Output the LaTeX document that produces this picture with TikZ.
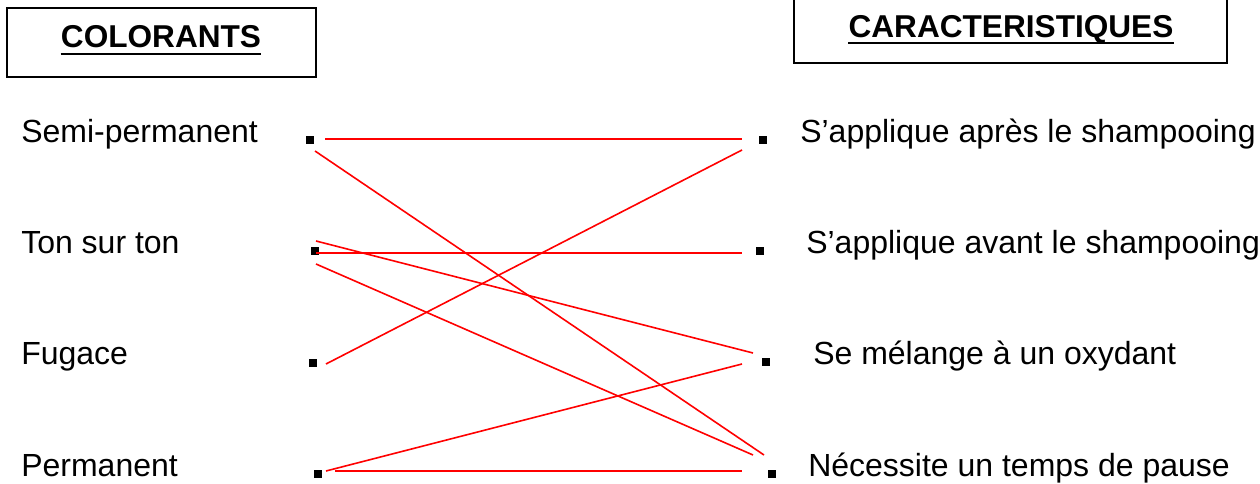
\documentclass[tikz,border=0pt]{standalone}
\usepackage{fontspec}
\setmainfont{Liberation Sans}
\usetikzlibrary{calc}
\begin{document}
\begin{tikzpicture}[x=0.75pt,y=-0.75pt,
  lbl/.style={anchor=base west,inner sep=0pt,font=\fontsize{24}{28}\selectfont},
  ttl/.style={anchor=base,inner sep=0pt,font=\fontsize{23.7}{28}\selectfont\bfseries},
  titlebox/.style={draw=black,line width=1.5pt},
  ul/.style={draw=black,line width=2.2pt},
  dotsq/.style={rectangle,fill=black,inner sep=0pt,minimum size=5.5pt},
  link/.style={draw=red,line width=1.2pt}]
\useasboundingbox (0,0) rectangle (1260,484);
% title boxes
\draw[titlebox] (7,8) rectangle (316,77);
\draw[titlebox] (794,-10) rectangle (1227,63);
\node[ttl] (tc) at (161,48) {COLORANTS};
\node[ttl] (tk) at (1011,38) {CARACTERISTIQUES};
\draw[ul] ($(tc.base west)+(0,6)$) -- ($(tc.base east)+(0,6)$);
\draw[ul] ($(tk.base west)+(0,5)$) -- ($(tk.base east)+(0,5)$);
% left labels
\node[lbl] (a1) at (21,143) {Semi-permanent};
\node[lbl] (a2) at (21,254) {Ton sur ton};
\node[lbl] (a3) at (21,365) {Fugace};
\node[lbl] (a4) at (21,476) {Permanent};
% right labels
\node[lbl] (b1) at (800,143) {S’applique après le shampooing};
\node[lbl] (b2) at (806,254) {S’applique avant le shampooing};
\node[lbl] (b3) at (813,365) {Se mélange à un oxydant};
\node[lbl] (b4) at (808,476) {Nécessite un temps de pause};
% dots
\node[dotsq] (l1) at (310,140) {};
\node[dotsq] (l2) at (315,251) {};
\node[dotsq] (l3) at (313,363) {};
\node[dotsq] (l4) at (318,474) {};
\node[dotsq] (r1) at (763,140) {};
\node[dotsq] (r2) at (760,251) {};
\node[dotsq] (r3) at (766,362) {};
\node[dotsq] (r4) at (772,474) {};
% links
\draw[link] ($(l1)+(15,-1)$) -- ($(r1)+(-21,-1)$);
\draw[link] ($(l1)+(5,11)$) -- ($(r4)+(-8,-19)$);
\draw[link] ($(l2)+(1,2)$) -- ($(r2)+(-18,2)$);
\draw[link] ($(l2)+(1,-10)$) -- ($(r3)+(-13,-9)$);
\draw[link] ($(l2)+(1,13)$) -- ($(r4)+(-19,-19)$);
\draw[link] ($(l3)+(13,1)$) -- ($(r1)+(-21,10)$);
\draw[link] ($(l4)+(8,-3)$) -- ($(r3)+(-24,2)$);
\draw[link] ($(l4)+(17,-3)$) -- ($(r4)+(-30,-3)$);
\end{tikzpicture}
\end{document}
